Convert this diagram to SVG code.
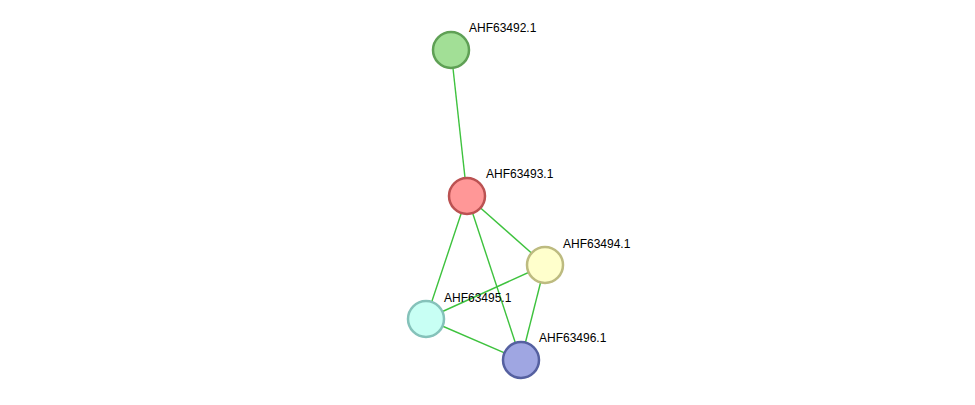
<svg xmlns="http://www.w3.org/2000/svg" width="975" height="405" viewBox="0 0 975 405">
<style>
.e{stroke:#3ec23e;stroke-width:1.4;fill:none}
.n{stroke-width:2.5}
.t{font-family:"Liberation Sans",Arial,sans-serif;font-size:12px;fill:#000}
</style>
<rect width="975" height="405" fill="#fff"/>
<g id="edges">
<line class="e" x1="451" y1="50" x2="467" y2="196"/>
<line class="e" x1="467" y1="196" x2="545" y2="265"/>
<line class="e" x1="467" y1="196" x2="426" y2="319"/>
<line class="e" x1="467" y1="196" x2="521" y2="360"/>
<line class="e" x1="545" y1="265" x2="426" y2="319"/>
<line class="e" x1="545" y1="265" x2="521" y2="360"/>
<line class="e" x1="426" y1="319" x2="521" y2="360"/>
</g>
<g id="AHF63492.1"><circle class="n" cx="451" cy="50" r="18" fill="#a2df96" stroke="#5fa055"/><text class="t" x="469" y="32">AHF63492.1</text></g>
<g id="AHF63493.1"><circle class="n" cx="467" cy="196" r="18" fill="#ff9797" stroke="#bb5252"/><text class="t" x="486" y="178">AHF63493.1</text></g>
<g id="AHF63494.1"><circle class="n" cx="545" cy="265" r="18" fill="#ffffcc" stroke="#bdbb80"/><text class="t" x="563" y="248">AHF63494.1</text></g>
<g id="AHF63495.1"><circle class="n" cx="426" cy="319" r="18" fill="#c8fff4" stroke="#85c2ba"/><text class="t" x="444" y="302">AHF63495.1</text></g>
<g id="AHF63496.1"><circle class="n" cx="521" cy="360" r="18" fill="#9fa6e2" stroke="#5560a0"/><text class="t" x="539" y="342">AHF63496.1</text></g>
</svg>
